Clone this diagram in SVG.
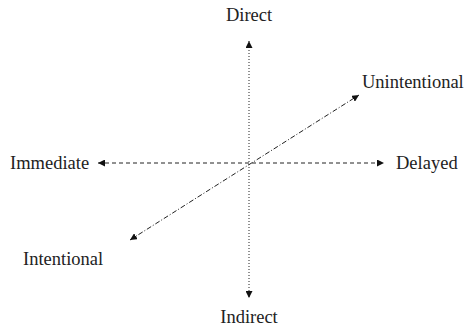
<svg xmlns="http://www.w3.org/2000/svg" width="465" height="328" viewBox="0 0 465 328">
<style>
text{font-family:"Liberation Serif","Times New Roman",serif;font-size:18.5px;fill:#222}
.ax{stroke:#222;stroke-width:1;fill:none}
</style>
<defs>
<marker id="ah" viewBox="0 0 10 10" refX="10" refY="5" markerWidth="7" markerHeight="7" markerUnits="userSpaceOnUse" orient="auto-start-reverse">
<path d="M0,0 L10,5 L0,10 z" fill="#111"/>
</marker>
</defs>
<rect width="465" height="328" fill="#fff"/>
<g id="connectors">
<line class="ax" x1="249" y1="41" x2="249" y2="298" stroke-dasharray="1,2" marker-start="url(#ah)" marker-end="url(#ah)"/>
<line class="ax" x1="98" y1="163" x2="384" y2="163" stroke-dasharray="4,3" marker-start="url(#ah)" marker-end="url(#ah)"/>
<line class="ax" x1="130" y1="240" x2="359" y2="95" stroke-dasharray="5,2,1,2" marker-start="url(#ah)" marker-end="url(#ah)"/>
</g>
<g id="direct"><text x="249" y="21" text-anchor="middle">Direct</text></g>
<g id="indirect"><text x="249" y="323" text-anchor="middle">Indirect</text></g>
<g id="immediate"><text x="10" y="169">Immediate</text></g>
<g id="delayed"><text x="396" y="169">Delayed</text></g>
<g id="unintentional"><text x="362" y="88">Unintentional</text></g>
<g id="intentional"><text x="23" y="265">Intentional</text></g>
</svg>
